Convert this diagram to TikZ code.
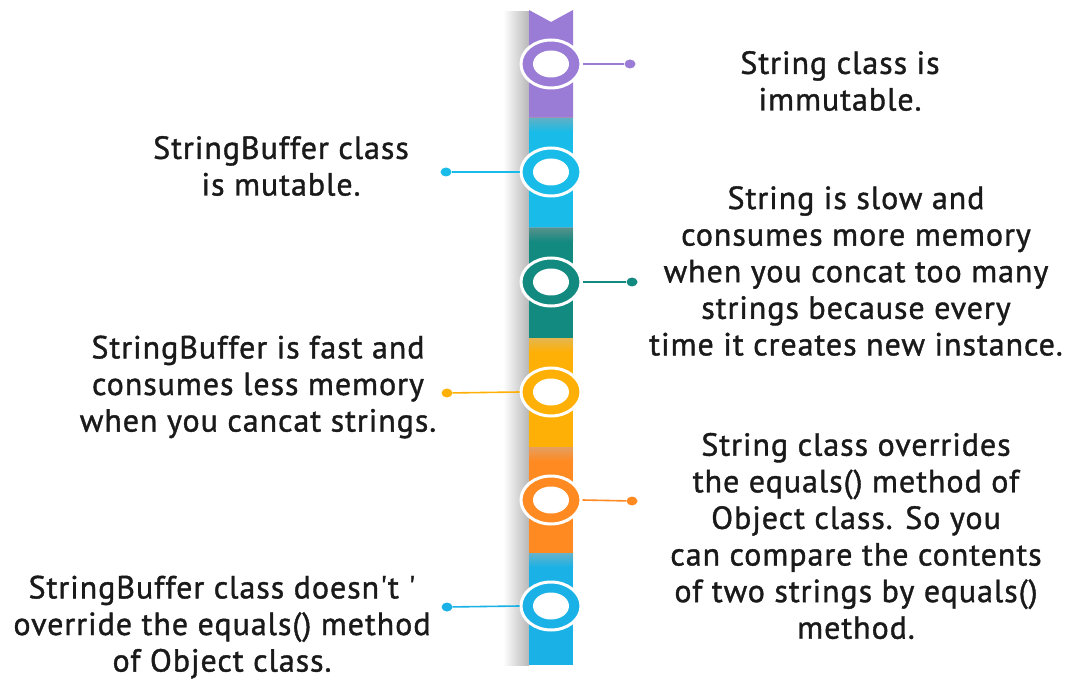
\documentclass[tikz,border=0pt]{standalone}
\usepackage{fontspec}
\setmainfont{PT Sans}[LetterSpace=3, FakeBold=1.2, Ligatures=TeXOff]
\usetikzlibrary{shapes.geometric}
\definecolor{cpurple}{HTML}{9A7BD6}
\definecolor{ccyan}{HTML}{19BCE8}
\definecolor{cteal}{HTML}{128A80}
\definecolor{camber}{HTML}{FFB006}
\definecolor{corange}{HTML}{FF8A22}
\definecolor{cblue}{HTML}{1AB2E6}
\definecolor{ctext}{HTML}{1A1A1A}
\tikzset{
  txt/.style={align=center, font=\fontsize{32}{36.6}\selectfont, text=ctext, inner sep=0pt},
  ringout/.style={ellipse, minimum width=60pt, minimum height=48pt, draw=white, line width=3pt, inner sep=0pt},
  ringin/.style={ellipse, fill=white, minimum width=36pt, minimum height=27pt, inner sep=0pt},
  dotnode/.style={ellipse, minimum width=11pt, minimum height=9pt, inner sep=0pt},
  conn/.style={line width=1.6pt}
}
\begin{document}
\begin{tikzpicture}[x=1pt,y=-1pt]
\useasboundingbox (0,0) rectangle (1067,684);
\fill[white] (0,0) rectangle (1067,684);
% shadow
\shade[left color=white, right color=black!28] (503,12) rectangle (529,665);
% segments
\fill[cpurple] (529,10) -- (551,22) -- (573,10) -- (573,118) -- (529,118) -- cycle;
\fill[ccyan] (529,118) rectangle (573,228);
\fill[cteal] (529,228) rectangle (573,338);
\fill[camber] (529,338) rectangle (573,447);
\fill[corange] (529,447) rectangle (573,553);
\fill[cblue] (529,553) rectangle (573,665);
% top dark bands
\shade[top color=black!35, bottom color=ccyan, opacity=0.5] (529,118) rectangle (573,132);
\shade[top color=black!40, bottom color=cteal, opacity=0.5] (529,228) rectangle (573,242);
\shade[top color=black!25, bottom color=camber, opacity=0.4] (529,338) rectangle (573,352);
\shade[top color=black!25, bottom color=corange, opacity=0.4] (529,447) rectangle (573,461);
\shade[top color=black!30, bottom color=cblue, opacity=0.5] (529,553) rectangle (573,567);
% rings
\node[ringout, fill=cpurple] (r1) at (551,64) {};
\node[ringout, fill=ccyan] (r2) at (551,172) {};
\node[ringout, fill=cteal] (r3) at (551,282) {};
\node[ringout, fill=camber] (r4) at (551,392) {};
\node[ringout, fill=corange] (r5) at (551,500) {};
\node[ringout, fill=cblue] (r6) at (551,606) {};
\foreach \i in {1,...,6} \node[ringin] at (r\i) {};
% dots
\node[dotnode, fill=cpurple] (d1) at (630,64) {};
\node[dotnode, fill=ccyan] (d2) at (446,172) {};
\node[dotnode, fill=cteal] (d3) at (632,282) {};
\node[dotnode, fill=camber] (d4) at (447,393) {};
\node[dotnode, fill=corange] (d5) at (632,501) {};
\node[dotnode, fill=cblue] (d6) at (447,607) {};
% connectors
\draw[conn, cpurple] (r1.east) -- (d1);
\draw[conn, ccyan] (r2.west) -- (d2);
\draw[conn, cteal] (r3.east) -- (d3);
\draw[conn, camber] (r4.west) -- (d4);
\draw[conn, corange] (r5.east) -- (d5);
\draw[conn, cblue] (r6.west) -- (d6);
% texts
\node[txt] (t1) at (840,81) {String class is\\immutable.};
\node[txt] (t2) at (281,166) {StringBuffer class\\is mutable.};
\node[txt] (t3) at (856,271) {String is slow and\\consumes more memory\\when you concat too many\\strings because every\\time it creates new instance.};
\node[txt] (t4) at (258,387) {StringBuffer is fast and\\consumes less memory\\when you cancat strings.};
\node[txt] (t5) at (856,536) {String class overrides\\the equals() method of\\Object class. So you\\can compare the contents\\of two strings by equals()\\method.};
\node[txt] (t6) at (222,627) {StringBuffer class doesn't '\\override the equals() method\\of Object class.};
\end{tikzpicture}
\end{document}
